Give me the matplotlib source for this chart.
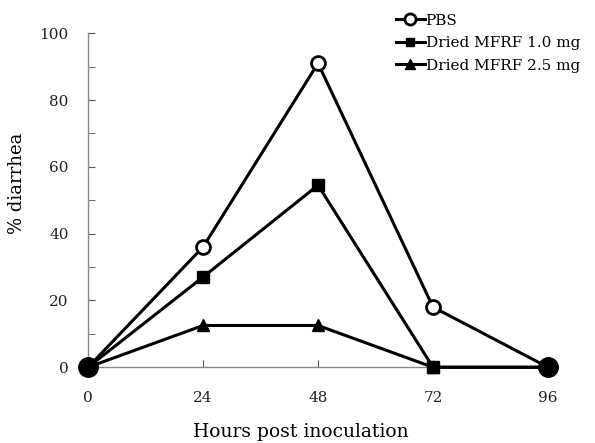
import matplotlib
matplotlib.use("Agg")
import matplotlib.pyplot as plt
from matplotlib.ticker import MultipleLocator

hours = [0, 24, 48, 72, 96]
pbs = [0, 36, 91, 18, 0]
mfrf_10 = [0, 27, 54.5, 0, 0]
mfrf_25 = [0, 12.5, 12.5, 0, 0]
labels = ["PBS", "Dried MFRF 1.0 mg", "Dried MFRF 2.5 mg"]

plt.rcParams['font.family'] = ['DejaVu Serif']

fig = plt.figure(figsize=(5.95, 4.43), dpi=100)
ax = fig.add_axes([0.148, 0.171, 0.773, 0.754])

lw = 2.2
ax.plot(hours, mfrf_25, color='black', lw=lw, marker='^', ms=9, mfc='black', mec='black', label=labels[2], clip_on=False, zorder=3)
ax.plot(hours, mfrf_10, color='black', lw=lw, marker='s', ms=8, mfc='black', mec='black', label=labels[1], clip_on=False, zorder=4)
ax.plot(hours, pbs, color='black', lw=lw, marker='o', ms=10, mfc='white', mec='black', mew=2, label=labels[0], clip_on=False, zorder=5)
# overlapping end points appear as large filled dots
ax.plot([hours[0], hours[-1]], [pbs[0], pbs[-1]], ls='none', marker='o', ms=14, color='black', clip_on=False, zorder=6)

ax.set_xlim(0, 96)
ax.set_ylim(0, 100)
ax.set_xticks(hours)
ax.yaxis.set_major_locator(MultipleLocator(20))
ax.yaxis.set_minor_locator(MultipleLocator(10))
for s in ['top', 'right']:
    ax.spines[s].set_visible(False)
for s in ['left', 'bottom']:
    ax.spines[s].set_color('#888888')
    ax.spines[s].set_linewidth(1.0)
ax.tick_params(axis='both', which='both', direction='in', color='#555555', labelsize=11, labelcolor='#222222')
ax.tick_params(axis='y', which='major', length=5, pad=14)
ax.tick_params(axis='y', which='minor', length=5)
ax.tick_params(axis='x', which='major', length=5, pad=17)

ax.set_ylabel('% diarrhea', fontsize=13)
ax.yaxis.set_label_coords(-0.135, 0.55)
ax.set_xlabel('Hours post inoculation', fontsize=13.5)
ax.xaxis.set_label_coords(0.463, -0.168)

h, l = ax.get_legend_handles_labels()
leg = fig.legend([h[2], h[1], h[0]], [l[2], l[1], l[0]],
                 loc='upper left', bbox_to_anchor=(0.642, 1.0), frameon=False,
                 fontsize=11, handlelength=1.9, handletextpad=0.05, labelspacing=0.55,
                 markerscale=0.8)

fig.savefig('out.png', dpi=100)
